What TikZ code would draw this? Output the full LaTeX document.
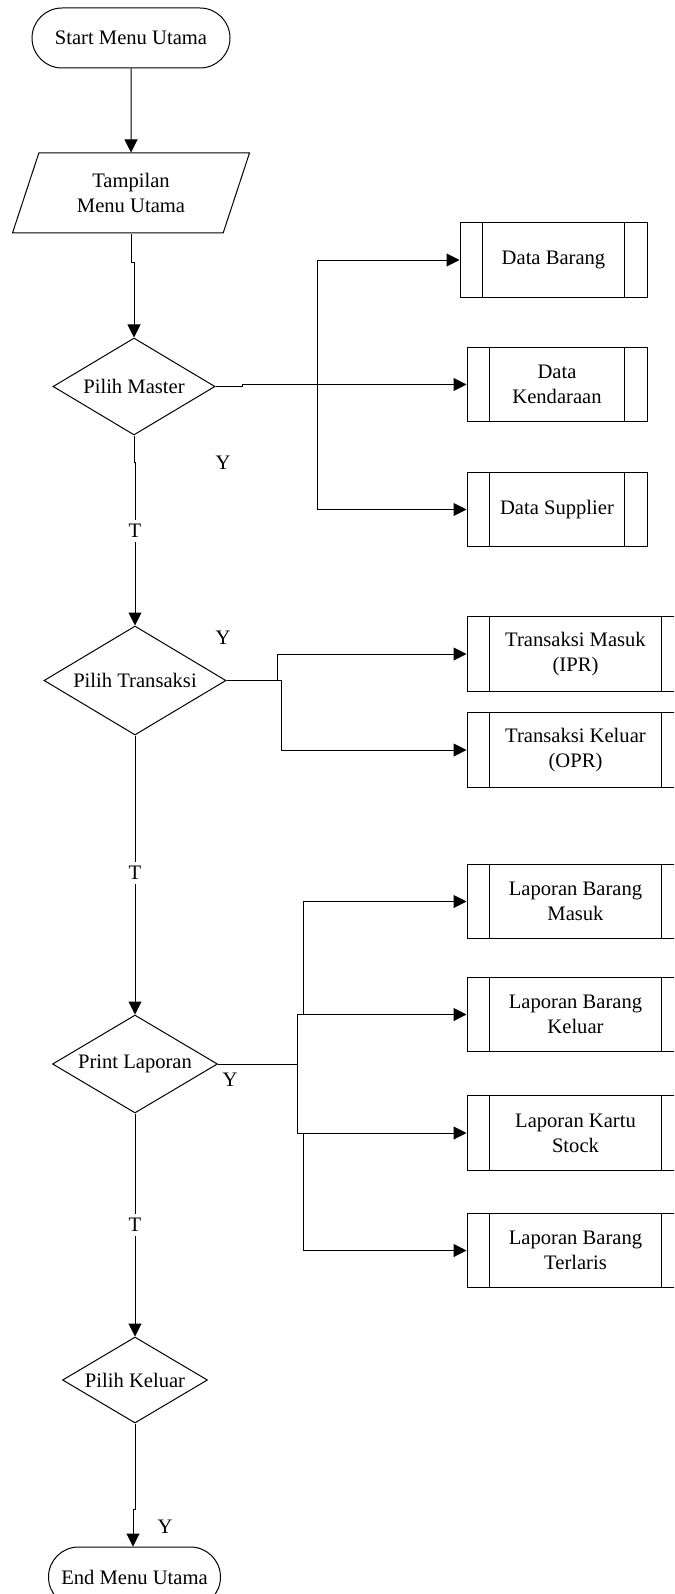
\documentclass[tikz,border=0pt]{standalone}
\usepackage{fontspec}
\setmainfont{Liberation Serif}
\usetikzlibrary{shapes.geometric, arrows.meta}

\begin{document}
\begin{tikzpicture}[x=0.5pt, y=-0.5pt, line width=0.5pt, font=\fontsize{10.3}{12.4}\selectfont]
 \tikzset{directed/.style={-{Triangle[length=6.5pt,width=6.5pt]}}}
 \tikzset{terminal/.style={draw, rounded corners=15pt, minimum height=30pt}}
 \tikzset{io/.style={draw, trapezium, trapezium left angle=63.4, trapezium right angle=116.6, trapezium stretches body, minimum width=118.5pt, minimum height=40pt, align=center}}
 \tikzset{decision/.style={draw, diamond, aspect=1.67, inner sep=0pt}}
 \tikzset{subproc/.style={draw, minimum height=37.25pt, align=center, path picture={
   \draw ([xshift=11pt]path picture bounding box.north west) -- ([xshift=11pt]path picture bounding box.south west)
         ([xshift=-11.5pt]path picture bounding box.north east) -- ([xshift=-11.5pt]path picture bounding box.south east);}}}
 \tikzset{lbl/.style={fill=white, inner sep=2pt}}
  \useasboundingbox (0,0) rectangle (674,1594);
  \clip (0,0) rectangle (674,1594);
  \node[terminal, minimum width=99pt] (start) at (131,38) {Start Menu Utama};
  \node[io] (tampil) at (131,193) {Tampilan\\Menu Utama};
  \node[decision, minimum width=81pt, minimum height=48.5pt] (master) at (134,386.5) {Pilih Master};
  \node[decision, minimum width=91pt, minimum height=54.5pt] (transaksi) at (135,680.5) {Pilih Transaksi};
  \node[decision, minimum width=82.5pt, minimum height=49pt] (laporan) at (135,1064) {Print Laporan};
  \node[decision, minimum width=72.5pt, minimum height=43pt] (pkeluar) at (135,1380) {Pilih Keluar};
  \node[terminal, minimum width=86pt] (end) at (134.5,1577) {End Menu Utama};
  \node[subproc, minimum width=93.5pt] (barang) at (553.5,260) {Data Barang};
  \node[subproc, minimum width=90pt] (kendaraan) at (557,384.5) {Data\\Kendaraan};
  \node[subproc, minimum width=90pt] (supplier) at (557,509.5) {Data Supplier};
  \node[subproc, minimum width=108.5pt] (tmasuk) at (575.5,654) {Transaksi Masuk\\(IPR)};
  \node[subproc, minimum width=108.5pt] (tkeluar) at (575.5,750) {Transaksi Keluar\\(OPR)};
  \node[subproc, minimum width=108.5pt] (lapmasuk) at (575.5,901.5) {Laporan Barang\\Masuk};
  \node[subproc, minimum width=108.5pt] (lapkeluar) at (575.5,1014.5) {Laporan Barang\\Keluar};
  \node[subproc, minimum width=108.5pt] (lapstock) at (575.5,1133) {Laporan Kartu\\Stock};
  \node[subproc, minimum width=108.5pt] (lapterlaris) at (575.5,1250.5) {Laporan Barang\\Terlaris};
  \coordinate (j1) at (134,262);
  \coordinate (j2) at (242,384.5);
  \coordinate (bus1) at (317,384.5);
  \coordinate (j3) at (135,462);
  \coordinate (t1) at (277,680.5);
  \coordinate (t2) at (281,680.5);
  \coordinate (l1) at (297,1064);
  \coordinate (l2) at (303,1014.5);
  \coordinate (l3) at (303,1133);
  \coordinate (j4) at (133,1509);
  \draw[directed] (start) -- (tampil);
  \draw[directed] (tampil.south) |- (j1) -- (master);
  \draw[directed] (master.east) -| (j2) -- (kendaraan);
  \draw[directed] (bus1) |- (barang);
  \draw[directed] (bus1) |- (supplier);
  \draw[directed] (master.south) |- (j3) -- (transaksi);
  \draw[directed] (transaksi) -- (t1) |- (tmasuk);
  \draw[directed] (t1) -- (t2) |- (tkeluar);
  \draw[directed] (transaksi) -- (laporan);
  \draw (laporan) -- (l1);
  \draw[directed] (l1) |- (lapkeluar);
  \draw[directed] (l1) |- (lapstock);
  \draw[directed] (l2) |- (lapmasuk);
  \draw[directed] (l3) |- (lapterlaris);
  \draw[directed] (laporan) -- (pkeluar);
  \draw[directed] (pkeluar.south) |- (j4) -- (j4 |- end.north);
  \node[lbl] (tm) at (135,531) {T};
  \node[lbl] (tt) at (135,873) {T};
  \node[lbl] (tl) at (135,1225) {T};
  \node (ym) at (223,463) {Y};
  \node (yt) at (223,638) {Y};
  \node (yl) at (230,1080) {Y};
  \node (yk) at (165,1527) {Y};
\end{tikzpicture}
\end{document}
